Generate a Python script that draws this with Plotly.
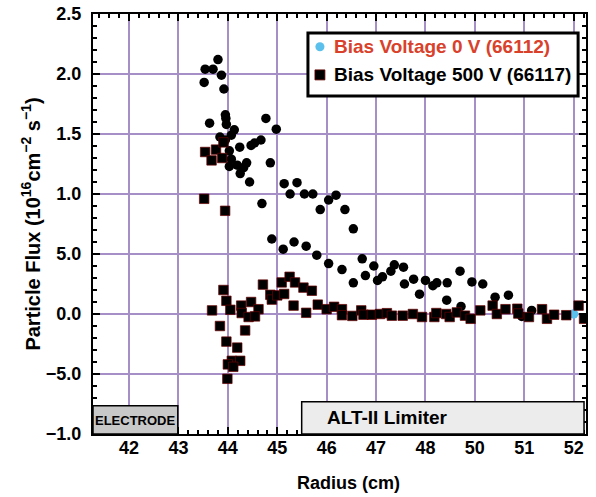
import plotly.graph_objects as go

# Tick positions / labels (axis positions; the original figure labels skip "49")
x_tickvals = [42, 43, 44, 45, 46, 47, 48, 49, 50, 51]
x_ticktext = ["42", "43", "44", "45", "46", "47", "48", "50", "51", "52"]
y_tickvals = [-1.0, -0.5, 0.0, 0.5, 1.0, 1.5, 2.0, 2.5]
y_ticktext = ["\u22121.0", "\u22125.0", "0.0", "5.0", "1.0", "1.5", "2.0", "2.5"]

legend_labels = ["Bias Voltage 0 V (66112)", "Bias Voltage 500 V (66117)"]

# Unlabelled black-circle series
circ_x = [43.80, 43.54, 43.70, 43.87, 43.52, 43.92, 43.95, 43.96, 43.97, 43.63,
          44.77, 44.98, 44.13, 44.07, 43.84, 43.95, 44.67, 44.54, 44.47, 44.24,
          44.03, 44.07, 44.38, 44.86, 44.03, 44.19, 44.32, 44.25, 44.44, 45.14,
          45.40, 45.26, 45.55, 45.72, 44.69, 45.87, 46.04, 46.19, 46.37, 46.54,
          44.89, 45.12, 45.34, 45.585, 45.80, 46.04, 46.31, 46.54, 46.72, 46.785,
          46.955, 47.03, 47.13, 47.30, 47.37, 47.555, 47.575, 47.76, 47.88, 48.00,
          48.15, 48.23, 48.43, 48.44, 48.70, 48.72, 48.94, 49.16, 49.41, 49.68,
          50.15, 49.95]
circ_y = [2.12, 2.04, 2.04, 1.99, 1.93, 1.875, 1.66, 1.63, 1.58, 1.59,
          1.63, 1.54, 1.535, 1.49, 1.475, 1.45, 1.45, 1.425, 1.405, 1.39,
          1.36, 1.29, 1.26, 1.26, 1.23, 1.24, 1.22, 1.17, 1.10, 1.086,
          1.094, 1.00, 1.00, 1.00, 0.92, 0.87, 0.95, 0.99, 0.87, 0.71,
          0.625, 0.54, 0.60, 0.565, 0.49, 0.42, 0.37, 0.26, 0.46, 0.32,
          0.40, 0.28, 0.31, 0.357, 0.41, 0.39, 0.25, 0.29, 0.165, 0.28,
          0.236, 0.26, 0.115, 0.26, 0.357, 0.063, 0.267, 0.25, 0.14, 0.157,
          0.03, -0.02]

# Bias Voltage 0 V (66112)
v0_x = [51.00]
v0_y = [0.0]

# Bias Voltage 500 V (66117)
v500_x = [43.54, 43.76, 43.67, 43.885, 43.91, 43.52, 43.945, 43.91, 43.97, 43.68,
          44.05, 44.27, 44.47, 44.28, 44.62, 44.42, 44.55, 43.84, 44.35, 43.97,
          44.19, 44.08, 44.25, 44.00, 44.11, 43.99, 44.71, 44.86, 44.89, 45.00,
          45.14, 45.09, 45.25, 45.36, 45.53, 45.70, 45.33, 45.585, 45.82, 46.00,
          46.15, 46.31, 46.31, 46.52, 46.70, 46.745, 46.915, 47.08, 47.22, 47.32,
          47.54, 47.745, 47.93, 48.18, 48.22, 48.42, 48.49, 48.635, 48.80, 48.915,
          49.11, 49.36, 49.445, 49.62, 49.86, 49.88, 50.095, 50.36, 50.46, 50.605,
          50.85, 51.10, 51.21]
v500_y = [1.35, 1.37, 1.28, 1.30, 1.43, 0.96, 0.86, 0.20, 0.11, 0.03,
          0.035, 0.07, 0.10, 0.008, 0.04, -0.025, -0.02, -0.10, -0.137, -0.23,
          -0.28, -0.39, -0.39, -0.42, -0.44, -0.54, 0.245, 0.16, 0.12, 0.155,
          0.167, 0.263, 0.31, 0.263, 0.22, 0.194, 0.07, 0.01, 0.078, 0.04,
          0.06, 0.04, -0.01, -0.016, 0.03, -0.006, -0.006, 0.0, 0.007, -0.014,
          -0.014, 0.0, -0.025, -0.025, 0.008, 0.0, -0.025, 0.013, -0.014, -0.04,
          0.03, 0.07, 0.0, 0.04, 0.044, 0.004, -0.025, 0.04, -0.04, -0.006,
          -0.01, 0.07, -0.04]

FONT = "Liberation Sans, Arial, sans-serif"
GRID = "#a58fc6"
BLUE = "#5bc0eb"
RED = "#d9412b"

fig = go.Figure()
fig.add_trace(go.Scatter(
    x=circ_x, y=circ_y, mode="markers", showlegend=False,
    marker=dict(symbol="circle", size=9.5, color="black", line=dict(width=0))))
fig.add_trace(go.Scatter(
    x=v0_x, y=v0_y, mode="markers", name=legend_labels[0], showlegend=False,
    marker=dict(symbol="circle", size=9.5, color=BLUE, line=dict(width=0))))
fig.add_trace(go.Scatter(
    x=v500_x, y=v500_y, mode="markers", name=legend_labels[1], showlegend=False,
    marker=dict(symbol="square", size=9.5, color="black",
                line=dict(width=0.7, color="#6a0000"))))

# region boxes
fig.add_shape(type="rect", xref="paper", yref="paper", x0=0.0, x1=0.172, y0=0.0, y1=0.067,
              fillcolor="#c8c8c8", line=dict(color="black", width=1.5), layer="above")
fig.add_shape(type="rect", xref="paper", yref="paper", x0=0.4233, x1=0.996, y0=0.0, y1=0.077,
              fillcolor="#ececec", line=dict(color="black", width=1.5), layer="above")
fig.add_annotation(xref="paper", yref="paper", x=0.087, y=0.033, text="<b>ELECTRODE</b>",
                   showarrow=False, xanchor="center", yanchor="middle",
                   font=dict(family=FONT, size=13, color="black"))
fig.add_annotation(xref="paper", yref="paper", x=0.598, y=0.04, text="<b>ALT-II Limiter</b>",
                   showarrow=False, xanchor="center", yanchor="middle",
                   font=dict(family=FONT, size=19, color="black"))

# x-axis title (placed as in the original, slightly right of centre)
fig.add_annotation(xref="paper", yref="paper", x=0.519, y=-0.117, text="<b>Radius (cm)</b>",
                   showarrow=False, xanchor="center", yanchor="middle",
                   font=dict(family=FONT, size=18, color="black"))

# hand-drawn legend box (paper coordinates)
L0, L1, LT, LB = 0.436, 0.984, 0.955, 0.805
fig.add_shape(type="rect", xref="paper", yref="paper", x0=L0, x1=L1, y0=LB, y1=LT,
              fillcolor="white", line=dict(color="black", width=3), layer="above")
row1, row2 = 0.922, 0.855
sx = 0.0243  # symbol centre offset from legend left
fig.add_shape(type="circle", xref="paper", yref="paper",
              x0=L0 + sx - 0.0092, x1=L0 + sx + 0.0092, y0=row1 - 0.0108, y1=row1 + 0.0108,
              fillcolor=BLUE, line=dict(width=0), layer="above")
fig.add_shape(type="rect", xref="paper", yref="paper",
              x0=L0 + sx - 0.0101, x1=L0 + sx + 0.0101, y0=row2 - 0.0119, y1=row2 + 0.0119,
              fillcolor="black", line=dict(width=0.8, color="#6a0000"), layer="above")
fig.add_annotation(xref="paper", yref="paper", x=L0 + 0.0487, y=row1, xanchor="left", yanchor="middle",
                   text="<b>" + legend_labels[0] + "</b>", showarrow=False,
                   font=dict(family=FONT, size=19, color=RED))
fig.add_annotation(xref="paper", yref="paper", x=L0 + 0.0487, y=row2, xanchor="left", yanchor="middle",
                   text="<b>" + legend_labels[1] + "</b>", showarrow=False,
                   font=dict(family=FONT, size=19, color="black"))

fig.update_layout(
    width=596, height=497,
    margin=dict(l=93, r=10, t=14, b=63),
    paper_bgcolor="white", plot_bgcolor="white",
    font=dict(family=FONT, color="black"),
    showlegend=False,
    xaxis=dict(range=[41.27, 51.25], tickmode="array", tickvals=x_tickvals, ticktext=x_ticktext,
               automargin=False,
               showgrid=True, gridcolor=GRID, gridwidth=2, zeroline=False,
               showline=True, linecolor="black", linewidth=2, mirror="allticks",
               ticks="inside", ticklen=7, tickwidth=1.5, tickcolor="black",
               minor=dict(tickmode="linear", tick0=42, dtick=0.2, ticks="inside", ticklen=4,
                          tickcolor="black", showgrid=False),
               ticklabelstandoff=-4,
               tickfont=dict(family=FONT, size=18, weight="bold")),
    yaxis=dict(range=[-1.0, 2.5], tickmode="array", tickvals=y_tickvals, ticktext=y_ticktext,
               automargin=False,
               showgrid=True, gridcolor=GRID, gridwidth=2, zeroline=False,
               showline=True, linecolor="black", linewidth=2, mirror="allticks",
               ticks="inside", ticklen=7, tickwidth=1.5, tickcolor="black",
               minor=dict(tickmode="linear", tick0=0, dtick=0.1, ticks="inside", ticklen=4,
                          tickcolor="black", showgrid=False),
               ticklabelstandoff=6,
               tickfont=dict(family=FONT, size=18, weight="bold"),
               title=dict(text="Particle Flux (10<sup>16</sup>cm<sup>\u22122</sup> s<sup>\u22121</sup>)",
                          font=dict(family=FONT, size=20, weight=600), standoff=0)),
)

fig.write_html("out.html", config={"displayModeBar": False},
               post_script="document.body.style.margin='0';")
